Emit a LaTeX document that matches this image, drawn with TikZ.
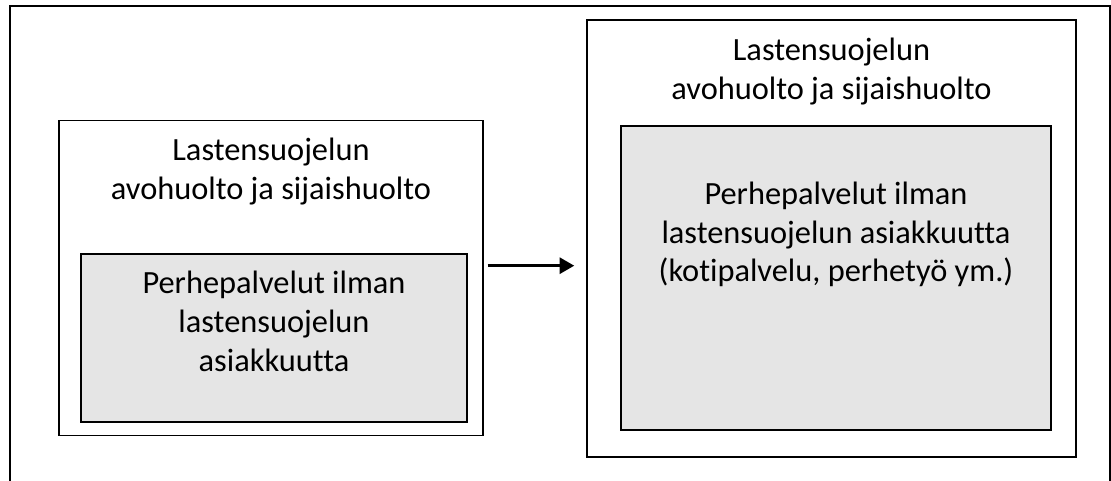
\documentclass[tikz,border=0pt]{standalone}
\usepackage{fontspec}
\setmainfont{Carlito}[Ligatures=NoCommon]
\usetikzlibrary{arrows.meta}
\definecolor{boxgrey}{RGB}{229,229,229}
\tikzset{
  px/.style={x=0.75pt,y=-0.75pt},
  outerbox/.style={draw=black,line width=1.1pt,fill=white,rectangle,inner sep=0pt},
  innerbox/.style={draw=black,line width=1.1pt,fill=boxgrey,rectangle,inner sep=0pt},
  label/.style={anchor=base,inner sep=0pt,text width=460*0.75pt,align=flush center,
    font=\fontsize{24.3pt}{28.9pt}\selectfont},
  flow/.style={-{Triangle[length=11pt,width=12pt]},line width=2.25pt},
  frame/.style={line width=1.9pt}
}
\begin{document}
\begin{tikzpicture}[px]
\useasboundingbox (0,0) rectangle (1111,481);
% outer frame (open at the bottom)
\coordinate (fbl) at (10,481);
\coordinate (ftl) at (10,6);
\coordinate (ftr) at (1110,6);
\coordinate (fbr) at (1110,481);
\draw[frame] (fbl) -- (ftl) -- (ftr) -- (fbr);
% left boxes
\node[outerbox,minimum width=424*0.75pt,minimum height=315*0.75pt] (lo) at (271,278.2) {};
\node[innerbox,minimum width=386*0.75pt,minimum height=168*0.75pt] (li) at (274,338) {};
\node[label] (lt) at (271,161) {Lastensuojelun\\avohuolto ja sijaishuolto};
\node[label] (lit) at (274,294) {Perhepalvelut ilman\\lastensuojelun\\asiakkuutta};
% right boxes
\node[outerbox,minimum width=489*0.75pt,minimum height=437*0.75pt] (ro) at (831.5,238.5) {};
\node[innerbox,minimum width=430*0.75pt,minimum height=304*0.75pt] (ri) at (836,278) {};
\node[label] (rt) at (831.5,61) {Lastensuojelun\\avohuolto ja sijaishuolto};
\node[label] (rit) at (836,204.5) {Perhepalvelut ilman\\lastensuojelun asiakkuutta\\(kotipalvelu, perhetyö ym.)};
% arrow
\coordinate (ay) at (500,265.7);
\draw[flow,shorten <=3pt,shorten >=9pt] (lo.east |- ay) -- (ro.west |- ay);
\end{tikzpicture}
\end{document}
